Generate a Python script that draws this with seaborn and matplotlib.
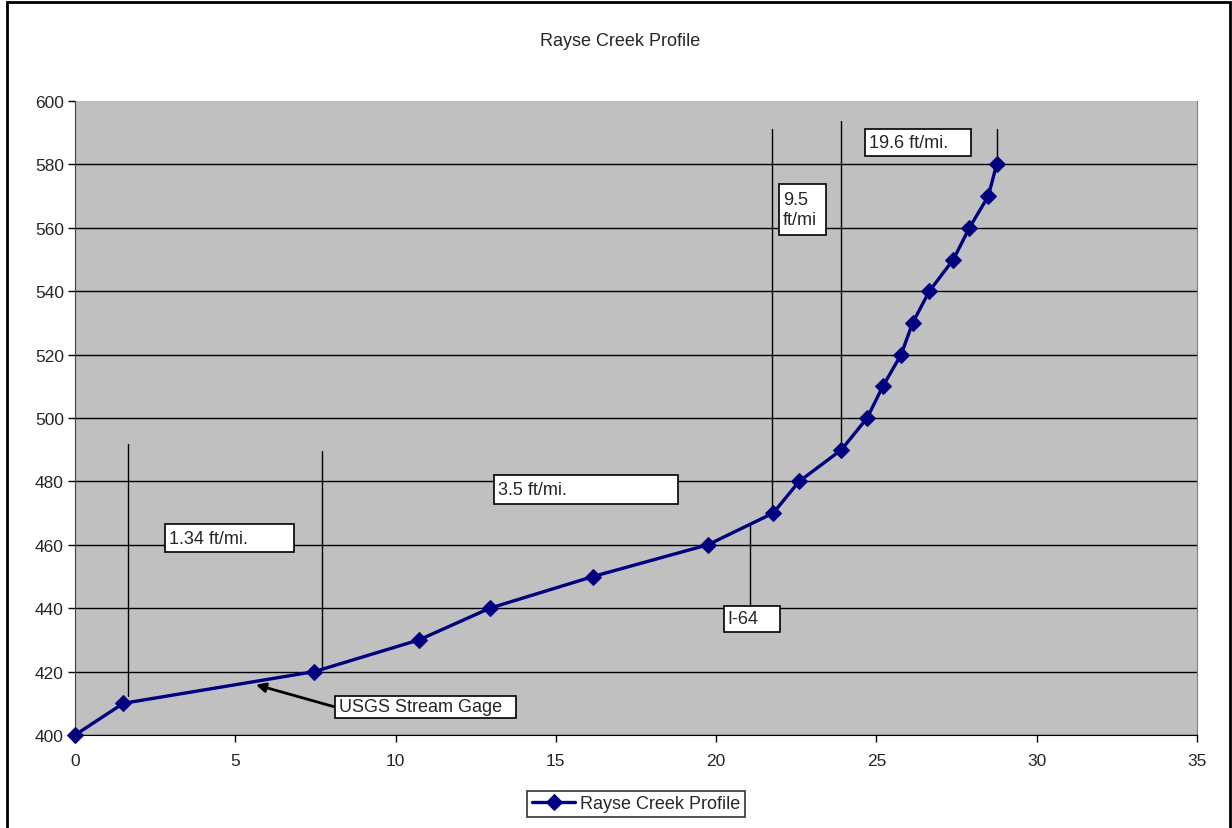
import matplotlib
matplotlib.use("Agg")
import matplotlib.pyplot as plt
from matplotlib.patches import Rectangle
import seaborn as sns
import pandas as pd

# Stream profile: river mile vs. elevation (ft)
river_mile = [0.0, 1.51, 7.47, 10.73, 12.94, 16.16, 19.74, 21.78, 22.59, 23.91,
              24.71, 25.20, 25.77, 26.13, 26.65, 27.40, 27.90, 28.49, 28.75]
elevation = [400, 410, 420, 430, 440, 450, 460, 470, 480, 490,
             500, 510, 520, 530, 540, 550, 560, 570, 580]

x_ticks = [0, 5, 10, 15, 20, 25, 30, 35]
y_ticks = [400, 420, 440, 460, 480, 500, 520, 540, 560, 580, 600]

# reach divider lines (x, top, bottom)
divider_x = [1.66, 7.69, 21.75, 23.89, 28.75, 21.06]
divider_top = [491.8, 489.5, 591.2, 593.7, 591.2, 466.9]
divider_bottom = [412.4, 421.4, 470.0, 490.0, 580.0, 440.8]

# text boxes
box_text = ["1.34 ft/mi.", "3.5 ft/mi.", "9.5\nft/mi", "19.6 ft/mi.", "I-64", "USGS Stream Gage"]
box_x0 = [2.80, 13.07, 21.97, 24.65, 20.23, 8.10]
box_x1 = [6.82, 18.81, 23.43, 27.95, 21.99, 13.77]
box_top = [466.6, 481.9, 573.7, 591.2, 440.8, 412.4]
box_bottom = [457.6, 473.0, 557.7, 582.8, 432.4, 405.4]

df = pd.DataFrame({"mile": river_mile, "elev": elevation})

sns.set_style("white")
plt.rcParams['font.family'] = ['Liberation Sans', 'DejaVu Sans']

fig = plt.figure(figsize=(12.32, 8.29), dpi=100)
ax = fig.add_axes([75 / 1232, 1 - 736 / 829, 1122 / 1232, 634 / 829])
ax.set_facecolor('#C0C0C0')

sns.lineplot(data=df, x="mile", y="elev", ax=ax, color='#000080', linewidth=2.4,
             marker='D', markersize=8, markeredgecolor='#000080',
             label='Rayse Creek Profile', zorder=4, sort=False)
ax.lines[0].set_clip_on(False)

ax.set_xlim(0, 35)
ax.set_ylim(400, 600)
ax.set_xticks(x_ticks)
ax.set_yticks(y_ticks)
ax.set_xlabel('')
ax.set_ylabel('')
ax.tick_params(axis='both', labelsize=12.5, direction='out', length=5, width=1,
               color='black', left=True, bottom=True)
ax.tick_params(axis='y', pad=3)
ax.tick_params(axis='x', pad=8)

ax.yaxis.grid(True, color='black', linewidth=1)
ax.get_ygridlines()[-1].set_visible(False)
ax.set_axisbelow(True)

ax.spines['top'].set_visible(False)
ax.spines['right'].set_color('#808080')
ax.spines['left'].set_color('#404040')
ax.spines['bottom'].set_color('black')

# divider lines
for x, t, b in zip(divider_x, divider_top, divider_bottom):
    ax.plot([x, x], [b, t], color='black', linewidth=1, zorder=3)

# text boxes
for txt, x0, x1, t, b in zip(box_text, box_x0, box_x1, box_top, box_bottom):
    ax.add_patch(Rectangle((x0, b), x1 - x0, t - b, facecolor='white',
                           edgecolor='black', linewidth=1.2, zorder=5))
    ax.text(x0 + 0.12, (t + b) / 2, txt, ha='left', va='center',
            fontsize=13, zorder=6, linespacing=1.25)

# arrow to the USGS gage
ax.annotate('', xy=(5.56, 416.1), xytext=(8.16, 408.7),
            arrowprops=dict(arrowstyle='-|>', color='black', lw=2, mutation_scale=14),
            zorder=6)

fig.text(620 / 1232, 1 - 42 / 829, 'Rayse Creek Profile', ha='center', va='center',
         fontsize=13)

leg = ax.legend(loc='center', bbox_to_anchor=(636 / 1232, 1 - 805 / 829),
                bbox_transform=fig.transFigure, fontsize=13, frameon=True,
                fancybox=False, edgecolor='black', handlelength=2.4,
                handletextpad=0.25, borderpad=0.25, borderaxespad=0)
leg.get_frame().set_linewidth(1.2)

# outer chart border
fig.patches.append(Rectangle((7 / 1232, -0.05), 1223 / 1232, 1.05 - 3 / 829,
                             transform=fig.transFigure, fill=False,
                             edgecolor='black', linewidth=2))

plt.savefig('out.png', dpi=100)
